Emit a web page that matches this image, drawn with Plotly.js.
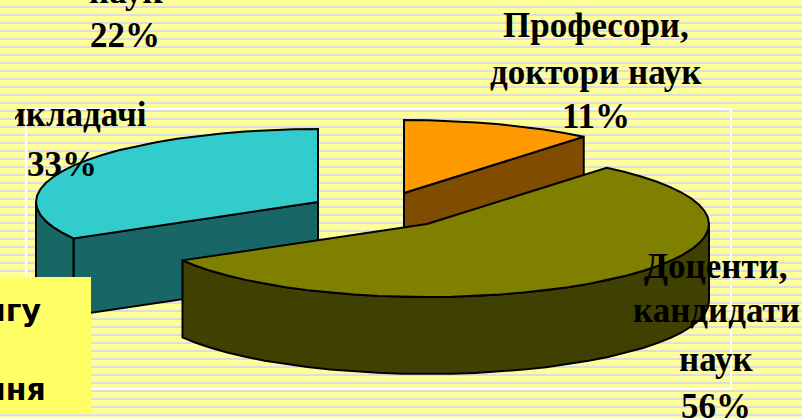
<!DOCTYPE html>
<html><head><meta charset="utf-8">
<script src="https://cdn.plot.ly/plotly-3.0.1.min.js"></script>
<style>html,body{margin:0;padding:0;overflow:hidden;background:#FFFF99}#c{width:802px;height:418px}</style>
</head><body><div id="c"></div>
<script>
// data
const categories = ['Викладачі','Професори, доктори наук','Доценти, кандидати наук'];
const shares = [33.3, 11.0, 55.7];
const sliceOrder = ['Професори, доктори наук','Доценти, кандидати наук','Викладачі']; // clockwise from 12 o'clock
const topColors = ['#33CCCC','#FF9900','#808000'];
const wallColors = ['#196666','#804D00','#404000'];
const apexX = [318, 404, 427];
const apexY = [202, 193, 224];

// label lines
const labelText = ['наук','22%','Професори,','доктори наук','11%','33%','Доценти,','кандидати','наук','56%'];
const labelX =    [126,125,596,596,596,62,716,716,716,716];
const labelBase = [4,48,38,85,129,177,279,323,372,419];
const clippedText = 'икладачі';
const boxText = ['нгу','ння'];
const boxRight = [43,48];
const boxBase = [321,400];

// geometry of the projected pie
const RX = 282, RY = 73, DEPTH = 77, STEP = 5, FS = 35, BFS = 30;
const rad = d => d*Math.PI/180;
function rimPoint(i,t,drop){ return [apexX[i]+RX*Math.sin(rad(t)), apexY[i]-RY*Math.cos(rad(t))+drop]; }
function arc(i,a,b,drop){
  const pts=[]; const n=Math.max(1,Math.round(Math.abs(b-a)/STEP));
  for(let k=0;k<=n;k++) pts.push(rimPoint(i,a+(b-a)*k/n,drop));
  return pts;
}
const traces=[];
function poly(pts,fill){
  const xs=pts.map(p=>p[0]).concat(pts[0][0]), ys=pts.map(p=>p[1]).concat(pts[0][1]);
  traces.push({type:'scatter',mode:'lines',x:xs,y:ys,fill:'toself',fillcolor:fill,
    line:{color:'#000',width:2},hoverinfo:'skip',showlegend:false});
}
const total=shares.reduce((a,b)=>a+b,0);
let cum=0; const ranges={};
sliceOrder.forEach(name=>{
  const i=categories.indexOf(name), a=cum/total*360; cum+=shares[i];
  ranges[i]=[a,cum/total*360];
});
categories.forEach((name,i)=>{
  const [t0,t1]=ranges[i];
  if(Math.sin(rad(t0))<0){
    const e=rimPoint(i,t0,0), e2=rimPoint(i,t0,DEPTH);
    poly([[apexX[i],apexY[i]],e,e2,[apexX[i],apexY[i]+DEPTH]],wallColors[i]);
  }
  if(Math.sin(rad(t1))>0 && t1<180){
    const e=rimPoint(i,t1,0), e2=rimPoint(i,t1,DEPTH);
    poly([[apexX[i],apexY[i]],e,e2,[apexX[i],apexY[i]+DEPTH]],wallColors[i]);
  }
  const a=Math.max(t0,90), b=Math.min(t1,270);
  if(b>a) poly(arc(i,a,b,0).concat(arc(i,b,a,DEPTH)),wallColors[i]);
  poly([[apexX[i],apexY[i]]].concat(arc(i,t0,t1,0)),topColors[i]);
});
// clipped label in its own subplot
traces.push({type:'scatter',mode:'text',x:[76],y:[127-0.27*FS],text:[clippedText],xaxis:'x2',yaxis:'y2',
  textposition:'middle center',textfont:{family:'Liberation Serif',size:FS,color:'#000',weight:700},
  hoverinfo:'skip',showlegend:false,cliponaxis:true});

const shapes=[];
for(let y=6;y<418;y+=8) shapes.push({type:'rect',xref:'x',yref:'y',x0:0,x1:802,y0:y,y1:y+2,
  fillcolor:'#DDDDDD',line:{width:0},layer:'below'});
shapes.push({type:'rect',xref:'x',yref:'y',x0:26,x1:731,y0:109,y1:389,fillcolor:'rgba(0,0,0,0)',
  line:{color:'#FFFFFF',width:2},layer:'below'});
shapes.push({type:'rect',xref:'x',yref:'y',x0:0,x1:91,y0:277,y1:413,fillcolor:'#FFFF66',line:{width:0},layer:'above'});

const annotations=labelText.map((t,i)=>{
  const y=labelBase[i]-0.36*FS;
  return {xref:'x',yref:'y',x:labelX[i],y:Math.max(y,0),yshift:y<0?-y:0,text:'<b>'+t+'</b>',
    showarrow:false,xanchor:'center',yanchor:'middle',font:{family:'Liberation Serif',size:FS,color:'#000'}};
}).concat(boxText.map((t,i)=>({xref:'x',yref:'y',x:boxRight[i],y:boxBase[i]-0.36*BFS,text:'<b>'+t+'</b>',
  showarrow:false,xanchor:'right',yanchor:'middle',font:{family:'DejaVu Sans',size:BFS,color:'#000'}})));

const hidden={visible:false,fixedrange:true};
Plotly.newPlot('c',traces,{
  width:802,height:418,margin:{l:0,r:0,t:0,b:0},showlegend:false,hovermode:false,
  paper_bgcolor:'#FFFF99',plot_bgcolor:'rgba(0,0,0,0)',
  xaxis:{...hidden,range:[0,802],domain:[0,1]},
  yaxis:{...hidden,range:[418,0],domain:[0,1]},
  xaxis2:{...hidden,range:[15,802],domain:[15/802,1],anchor:'y2'},
  yaxis2:{...hidden,range:[418,0],domain:[0,1],anchor:'x2'},
  shapes,annotations
},{displayModeBar:false,staticPlot:true});
</script></body></html>
